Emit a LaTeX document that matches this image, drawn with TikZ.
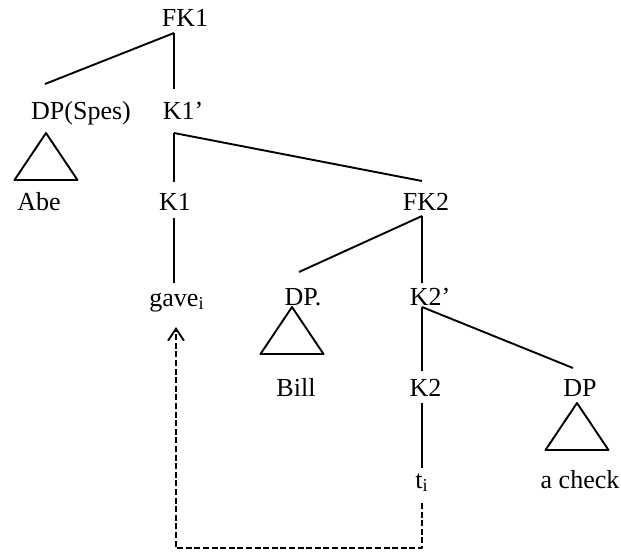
\documentclass[tikz,border=0pt]{standalone}
\usepackage{fontspec}
\setmainfont{Liberation Serif}
\usetikzlibrary{calc,arrows.meta}
\newcommand{\trisub}[1]{\draw (#1) -- ++(-31.5,47) -- ++(63,0) -- cycle;}
\begin{document}
\begin{tikzpicture}[x=0.5pt,y=-0.5pt,>={Straight Barb[length=6pt,width=8pt]}, font=\fontsize{13}{15}\selectfont, line join=round, line width=0.95pt]
			\tikzset{lbl/.style={anchor=base, inner sep=0pt}}
			\useasboundingbox (0,0) rectangle (621,552);
			% labels, row by row
			\node[lbl] (fk1) at (185,26) {FK1};
			\node[lbl] (dps) at (81,119) {DP(Spes)};
			\node[lbl] (k1b) at (183,119) {K1’};
			\node[lbl] (abe) at (39,210) {Abe};
			\node[lbl] (k1) at (175,210) {K1};
			\node[lbl] (fk2) at (426,210) {FK2};
			\node[lbl] (gave) at (177,306) {gave\textsubscript{i}};
			\node[lbl] (dp) at (303,305) {DP.};
			\node[lbl] (k2b) at (430,305) {K2’};
			\node[lbl] (bill) at (296,396) {Bill};
			\node[lbl] (k2) at (425.5,396) {K2};
			\node[lbl] (dpr) at (580,396) {DP};
			\node[lbl] (ti) at (422,488) {t\textsubscript{i}};
			\node[lbl] (check) at (580,488) {a check};
			% branches
			\draw ($(fk1.base)+(-11,7)$) -- ($(dps.base)+(-36,-35)$);
			\draw ($(fk1.base)+(-11,7)$) -- ($(k1b.base)+(-9,-30)$);
			\draw ($(k1b.base)+(-9,14)$) -- ($(k1.base)+(-1,-28)$);
			\draw ($(k1b.base)+(-9,14)$) -- ($(fk2.base)+(-4,-29)$);
			\draw ($(k1.base)+(-1,8)$) -- ($(gave.base)+(-3,-23)$);
			\draw ($(fk2.base)+(-4,6)$) -- ($(dp.base)+(-4,-33)$);
			\draw ($(fk2.base)+(-4,6)$) -- ($(k2b.base)+(-8,-22)$);
			\draw ($(k2b.base)+(-8,2)$) -- ($(k2.base)+(-3.5,-25)$);
			\draw ($(k2b.base)+(-8,2)$) -- ($(dpr.base)+(-7,-28)$);
			\draw ($(k2.base)+(-3.5,7)$) -- ($(ti.base)+(0,-20)$);
			% triangles
			\trisub{$(dps.base)+(-35,14)$}
			\trisub{$(dp.base)+(-11,2)$}
			\trisub{$(dpr.base)+(-3,7)$}
			% movement
			\draw[->, dash pattern=on 3pt off 1.3pt] ($(ti.base)+(0,15)$) -- ++(0,45) -| ($(gave.base)+(-1,21)$);
		\end{tikzpicture}
\end{document}
